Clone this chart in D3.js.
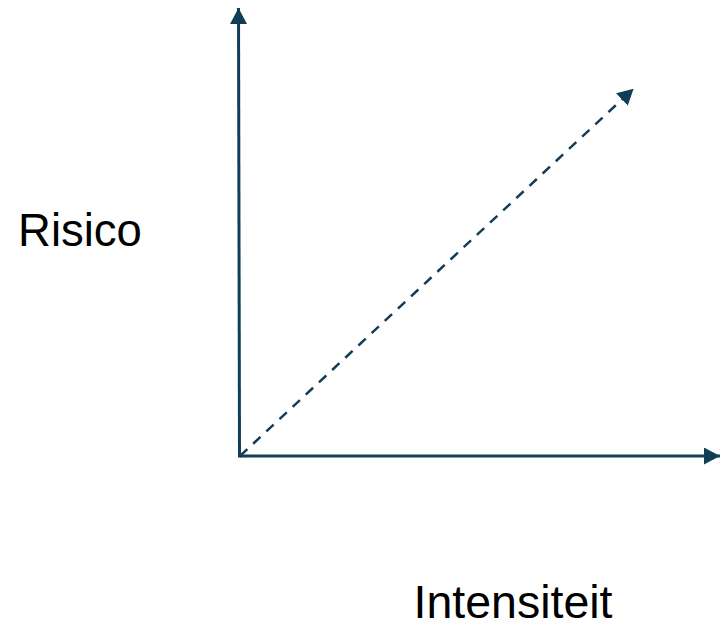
<!DOCTYPE html>
<html>
<head>
<meta charset="utf-8">
<script src="https://cdn.jsdelivr.net/npm/d3@7"></script>
<style>
  html, body { margin: 0; padding: 0; background: #fff; }
  text { font-family: "Liberation Sans", Arial, sans-serif; }
</style>
</head>
<body>
<svg id="chart"></svg>
<script>
// axis titles
var axisLabels = ["Intensiteit", "Risico"];
// trend line, in axis units (0..1)
var trendX = [0, 0.82];
var trendY = [0, 0.82];

var width = 720, height = 628;
var color = "#123d57";

var x = d3.scaleLinear().domain([0, 1]).range([240, 720]);
var y = d3.scaleLinear().domain([0, 1]).range([456, 8]);

var svg = d3.select("#chart")
    .attr("width", width)
    .attr("height", height);

var defs = svg.append("defs");
defs.append("marker")
    .attr("id", "arrow")
    .attr("markerUnits", "userSpaceOnUse")
    .attr("viewBox", "0 0 16 17")
    .attr("refX", 16)
    .attr("refY", 8.5)
    .attr("markerWidth", 16)
    .attr("markerHeight", 17)
    .attr("orient", "auto")
    .append("path")
    .attr("d", "M0,0 L16,8.5 L0,17 Z")
    .attr("fill", color);

// x axis
svg.append("line")
    .attr("x1", x(0)).attr("y1", y(0))
    .attr("x2", x(1)).attr("y2", y(0))
    .attr("stroke", color)
    .attr("stroke-width", 3)
    .attr("marker-end", "url(#arrow)");

// y axis
svg.append("line")
    .attr("x1", x(0) - 0.5).attr("y1", y(0) + 1.5)
    .attr("x2", x(0) - 1.5).attr("y2", y(1))
    .attr("stroke", color)
    .attr("stroke-width", 3)
    .attr("marker-end", "url(#arrow)");

// dashed diagonal
var line = d3.line()
    .x(function(d){ return x(d[0]); })
    .y(function(d){ return y(d[1]); });

svg.append("path")
    .datum(d3.zip(trendX, trendY))
    .attr("d", line)
    .attr("fill", "none")
    .attr("stroke", color)
    .attr("stroke-width", 2.5)
    .attr("stroke-dasharray", "10,8")
    .attr("marker-end", "url(#arrow)");

svg.append("text")
    .attr("x", 513)
    .attr("y", 618)
    .attr("text-anchor", "middle")
    .attr("font-size", 46.5)
    .attr("fill", "#000")
    .text(axisLabels[0]);

svg.append("text")
    .attr("x", 80)
    .attr("y", 246)
    .attr("text-anchor", "middle")
    .attr("font-size", 45.5)
    .attr("fill", "#000")
    .text(axisLabels[1]);
</script>
</body>
</html>
